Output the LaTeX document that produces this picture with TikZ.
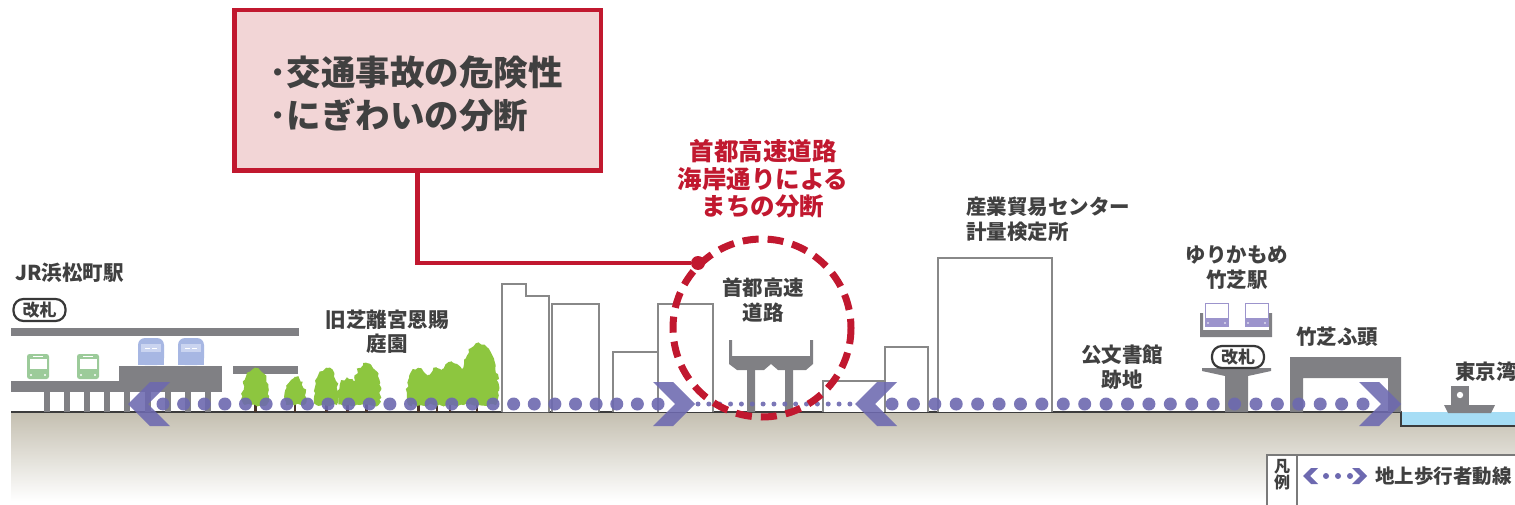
\documentclass[tikz,border=0pt]{standalone}
\usepackage{fontspec}
\setmainfont{Noto Sans CJK JP}
\usetikzlibrary{decorations.pathmorphing}

\definecolor{txtgray}{HTML}{404040}
\definecolor{redline}{HTML}{C1182F}
\definecolor{pinkfill}{HTML}{F2D5D6}
\definecolor{structgray}{HTML}{808084}
\definecolor{bldggray}{HTML}{888888}
\definecolor{walkway}{HTML}{6D69B0}
\definecolor{treegreen}{HTML}{8DC63F}
\definecolor{trunkbrown}{HTML}{4A3428}
\definecolor{waterblue}{HTML}{A6DDF5}
\definecolor{groundtop}{HTML}{C4BFB0}
\definecolor{groundline}{HTML}{3C3C3C}
\definecolor{jrgreen}{HTML}{9CCB9A}
\definecolor{shinblue}{HTML}{A7B7E3}
\definecolor{shinlight}{HTML}{CAD4F0}
\definecolor{ykpurple}{HTML}{9C94CC}
\definecolor{pilldark}{HTML}{383838}
\definecolor{legendgray}{HTML}{7A7A7A}

% tree crown: centre x, top y, width; crowns end at y=405
\newcommand\crownat[3]{%
  \fill[treegreen, decorate, decoration={random steps,segment length=3pt,amplitude=1.5pt}]
    (#1,#2) .. controls ({#1+0.45*#3},{#2+2}) and ({#1+0.62*#3},396) .. ({#1+0.42*#3},405)
    -- ({#1-0.42*#3},405) .. controls ({#1-0.62*#3},396) and ({#1-0.45*#3},{#2+2}) .. cycle;}
% walkway chevrons, given the tip
\newcommand\chevleft[2]{%
  \fill[walkway, fill opacity=0.88] (#1,#2) -- ({#1+22},{#2-22}) -- ({#1+42},{#2-22})
    -- ({#1+20},#2) -- ({#1+42},{#2+22}) -- ({#1+22},{#2+22}) -- cycle;}
\newcommand\chevright[2]{%
  \fill[walkway, fill opacity=0.88] (#1,#2) -- ({#1-22},{#2-22}) -- ({#1-42},{#2-22})
    -- ({#1-20},#2) -- ({#1-42},{#2+22}) -- ({#1-22},{#2+22}) -- cycle;}
% JR commuter train and shinkansen, given the top-left corner
\newcommand\jrtrain[2]{%
  \fill[jrgreen, rounded corners=2.5pt] (#1,#2) rectangle ({#1+22},{#2+25});
  \fill[white] ({#1+2.5},{#2+4.5}) rectangle ({#1+19.5},{#2+14.5});
  \fill[white] ({#1+6},{#2+1.5}) rectangle ({#1+16},{#2+3});
  \fill[white] ({#1+4},{#2+21}) circle (1.2) ({#1+18},{#2+21}) circle (1.2);}
\newcommand\shinkansen[2]{%
  \fill[shinblue, rounded corners=7pt] (#1,#2) rectangle ({#1+26},{#2+27});
  \fill[shinblue] (#1,{#2+14}) rectangle ({#1+26},{#2+27});
  \fill[shinlight] ({#1+3},{#2+6}) rectangle ({#1+23},{#2+14});
  \draw[white, line width=1.3pt] ({#1+7},{#2+10.5}) -- ({#1+12},{#2+10.5})
    ({#1+14},{#2+10.5}) -- ({#1+19},{#2+10.5});}
\newcommand\ykcar[2]{%
  \fill[white] (#1,#2) rectangle ({#1+23},{#2+23});
  \fill[ykpurple] (#1,{#2+15}) rectangle ({#1+23},{#2+23});
  \draw[ykpurple, line width=1pt] (#1,#2) rectangle ({#1+23},{#2+23});
  \fill[white] ({#1+3},{#2+20}) circle (0.8) ({#1+20},{#2+20}) circle (0.8);}

\tikzset{
  lbl/.style={font=\fontsize{20.5}{24.5}\selectfont\bfseries, text=txtgray, inner sep=0pt, align=center},
  pill/.style={draw=pilldark, line width=2.2pt, rounded corners=10pt, fill=white,
    minimum width=52pt, minimum height=22pt, inner sep=0pt,
    font=\fontsize{17}{17}\selectfont\bfseries, text=txtgray},
  bldg/.style={draw=bldggray, line width=2.8pt, fill=white, line join=miter},
  issue/.style={draw=redline, line width=4.5pt, fill=pinkfill, text=txtgray,
    minimum width=366.5pt, minimum height=160.5pt, inner sep=0pt, align=left,
    font=\fontsize{34.5}{42.5}\selectfont\bfseries},
  redtitle/.style={text=redline, inner sep=0pt, align=center,
    font=\fontsize{24.5}{27.5}\selectfont\bfseries},
  redconn/.style={draw=redline, line width=4.5pt},
  trunk/.style={draw=trunkbrown, line width=2.6pt},
}

\begin{document}
\begin{tikzpicture}[x=1pt,y=-1pt]
\pgfmathsetseed{7}
\useasboundingbox (0,0) rectangle (1515,505);
\fill[white] (0,0) rectangle (1515,505);

% ground, bay water and ground line
\shade[top color=groundtop, bottom color=white] (11,412) rectangle (1515,501);
\fill[waterblue] (1401,412) rectangle (1515,426);
\draw[groundline, line width=1.6pt] (11,412) -- (1401,412) -- (1401,426) -- (1515,426);

% city blocks
\draw[bldg] (502,412) -- (502,284) -- (526,284) -- (526,296) -- (549,296) -- (549,412);
\draw[bldg] (552,412) |- (599,304) -- (599,412);
\draw[bldg] (613,412) |- (658,352) -- (658,412);
\draw[bldg] (658,412) |- (713,304) -- (713,412);
\draw[bldg] (823,412) |- (885,381) -- (885,412);
\draw[bldg] (885,412) |- (928,347) -- (928,412);
\draw[bldg] (938,412) |- (1052,258) -- (1052,412);

% elevated expressway
\fill[structgray] (729,340) -- (732,340) -- (732,356) -- (810,356) -- (810,340) -- (813,340)
  -- (813,364) -- (806,370) -- (778,370) -- (771,364) -- (764,370) -- (737,370) -- (729,364) -- cycle;
\fill[structgray] (747,370) rectangle (755,412) (785,370) rectangle (793,412);

% JR Hamamatsucho station
\fill[structgray] (11,328) rectangle (299,336);
\fill[structgray] (11,381) rectangle (119,392);
\fill[structgray] (119,366) rectangle (222,392);
\fill[structgray] (233,366) rectangle (298,374);
\foreach \i in {0,...,8} \fill[structgray] ({44+20.1*\i},392) rectangle ({50+20.1*\i},412);
\jrtrain{27}{354}
\jrtrain{77}{354}
\shinkansen{138}{338}
\shinkansen{178}{338}

% garden trees
\foreach \tx in {255.5,295,326.5,347.5,366.5,418.5,437,450,477} \draw[trunk] (\tx,394) -- (\tx,412);
\crownat{255.5}{368}{26}
\crownat{295}{377}{21}
\crownat{326.5}{368}{24}
\crownat{347.5}{378}{20}
\crownat{366.5}{363}{28}
\crownat{418.5}{368}{24}
\crownat{437}{368}{27}
\crownat{452}{362}{28}
\crownat{479}{343}{39}

% Yurikamome Takeshiba station
\ykcar{1205}{303}
\ykcar{1245}{303}
\fill[structgray] (1200,313) -- (1203,313) -- (1203,330) -- (1269,330) -- (1269,313) -- (1272,313)
  -- (1272,337) -- (1200,337) -- cycle;
\fill[structgray] (1202,368) -- (1271,368) -- (1271,371) -- (1248,376) -- (1248,412)
  -- (1225,412) -- (1225,376) -- (1202,371) -- cycle;

% Takeshiba pier
\fill[structgray] (1290,357) -- (1401,357) -- (1401,412) -- (1388,412) -- (1388,378)
  -- (1303,378) -- (1303,412) -- (1290,412) -- cycle;

% boat on the bay
\fill[structgray] (1451,386) rectangle (1469,405);
\fill[white] (1460,395) circle (3.2);
\fill[structgray] (1444,405) -- (1495,405) -- (1491,413) -- (1448,413) -- cycle;

% pedestrian walkway at ground level
\foreach \i in {0,...,24} \fill[walkway, fill opacity=0.9] ({163+20.625*\i},404) circle (6.5);
\foreach \i in {0,...,14} \fill[walkway, fill opacity=0.9] ({698+10.85*\i},404) circle (2.5);
\foreach \i in {0,...,22} \fill[walkway, fill opacity=0.9] ({892+21.41*\i},404) circle (6.5);
\chevleft{128}{404}
\chevright{695}{404}
\chevleft{855}{404}
\chevright{1401}{404}

% severance by the expressway
\draw[redline, line width=7pt, dash pattern=on 16pt off 9pt] (762,328) circle (89);
\node[circle, fill=redline, minimum size=14pt, inner sep=0pt] (reddot) at (698,263) {};
\node[issue] (issuebox) at (417.5,90.5) {};
\node[text=txtgray, inner sep=0pt, align=left, font=\fontsize{34.5}{42.5}\selectfont\bfseries]
  (issuetext) at (416,94) {･交通事故の危険性\\･にぎわいの分断};
\draw[redconn] (issuebox.south) |- (reddot);
\node[redtitle] (title) at (763,179) {首都高速道路\\海岸通りによる\\まちの分断};

% place labels
\node[lbl, anchor=west] (jrlabel) at (15,273) {JR浜松町駅};
\node[pill] (jrgate) at (39.5,310) {改札};
\node[lbl] (garden) at (387,332) {旧芝離宮恩賜\\庭園};
\node[lbl] (hwlabel) at (763,300) {首都高速\\道路};
\node[lbl, anchor=west, align=left] (tradectr) at (966,219.5) {産業貿易センター\\計量検定所};
\node[lbl] (archives) at (1122,367) {公文書館\\跡地};
\node[lbl] (yurikamome) at (1237,267.5) {ゆりかもめ\\竹芝駅};
\node[pill] (ykgate) at (1238,357) {改札};
\node[lbl] (pier) at (1337,337) {竹芝ふ頭};
\node[lbl, anchor=west] (bay) at (1455,372) {東京湾};

% legend
\draw[legendgray, line width=1.5pt, fill=white] (1267,455) rectangle (1520,510);
\draw[legendgray, line width=1.5pt] (1297,455) -- (1297,505);
\node[inner sep=0pt, align=center, text=txtgray, font=\fontsize{16}{16}\selectfont\bfseries]
  (legendhead) at (1282,475) {凡\\例};
\fill[walkway] (1303,476) -- (1311,468) -- (1318,468) -- (1310,476) -- (1318,484) -- (1311,484) -- cycle;
\fill[walkway] (1367,476) -- (1359,468) -- (1352,468) -- (1360,476) -- (1352,484) -- (1359,484) -- cycle;
\foreach \dx in {1326,1338,1350} \fill[walkway] (\dx,476) circle (3);
\node[inner sep=0pt, anchor=west, text=txtgray, font=\fontsize{19.5}{20}\selectfont\bfseries]
  (legendtext) at (1375,476) {地上歩行者動線};
\end{tikzpicture}
\end{document}
